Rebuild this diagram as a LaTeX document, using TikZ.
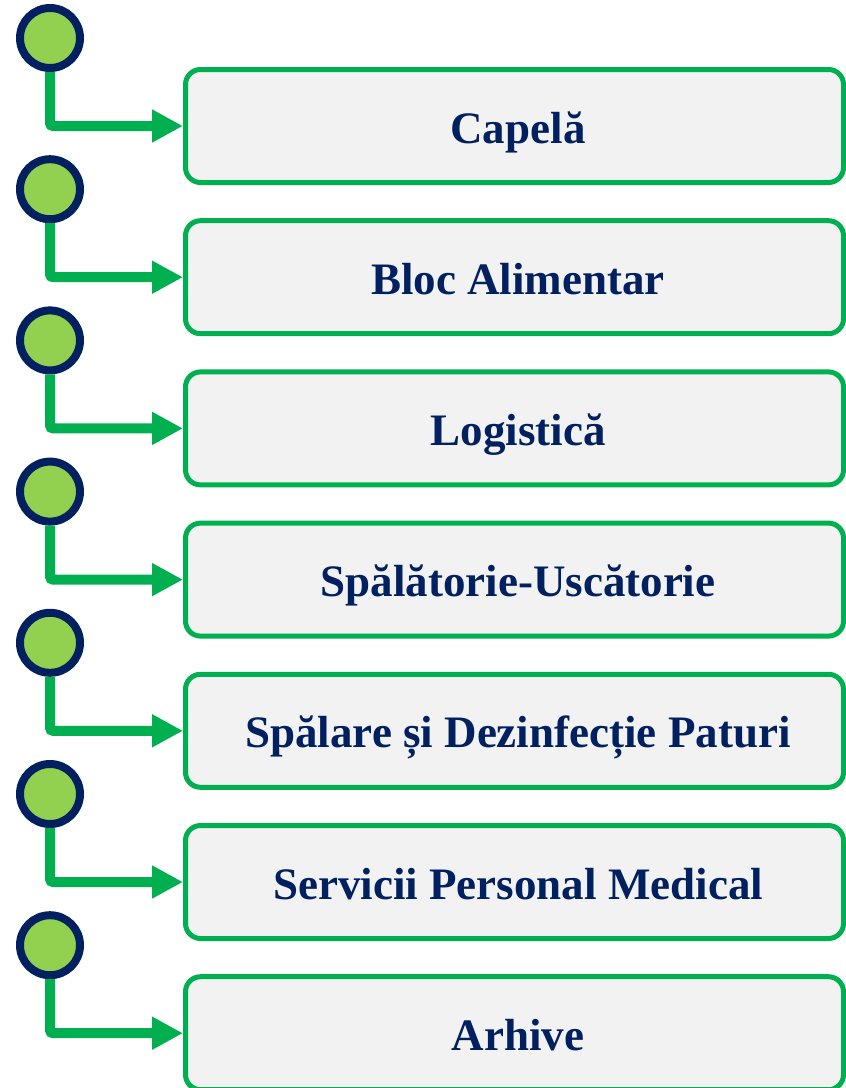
\documentclass[tikz,border=0pt]{standalone}
\usepackage{fontspec}
\setmainfont{Liberation Serif}
\usetikzlibrary{arrows.meta}
\definecolor{navy}{HTML}{002060}
\definecolor{lgreen}{HTML}{92D050}
\definecolor{dgreen}{HTML}{00B050}
\definecolor{boxfill}{HTML}{F2F2F2}
\tikzset{
  itembox/.style={draw=dgreen, line width=5pt, fill=boxfill, rounded corners=15pt,
    minimum width=658pt, minimum height=113pt, inner sep=0pt},
  itemtext/.style={anchor=base, inner sep=0pt, font=\fontsize{45}{48}\selectfont\bfseries, text=navy},
  dot/.style={circle, draw=navy, line width=8pt, fill=lgreen, minimum size=60pt, inner sep=0pt},
  link/.style={draw=dgreen, line width=10pt, rounded corners=3pt, -{Triangle[length=31pt,width=31pt]}}
}
\begin{document}
\begin{tikzpicture}[x=1pt,y=-1pt]
\useasboundingbox (0,0) rectangle (846,1088);
\foreach \i/\t in {0/{Capelă},1/{Bloc Alimentar},2/{Logistică},3/{Spălătorie-Uscătorie},4/{Spălare și Dezinfecție Paturi},5/{Servicii Personal Medical},6/{Arhive}}{
  \node[itembox] (b\i) at (514.5, 126+151.2*\i) {};
  \node[itemtext] (t\i) at (518, 143+151.2*\i) {\t};
  \node[dot] (c\i) at (50, 38+151.2*\i) {};
  \draw[link] (c\i.south) |- (b\i.west);
}
\end{tikzpicture}
\end{document}
